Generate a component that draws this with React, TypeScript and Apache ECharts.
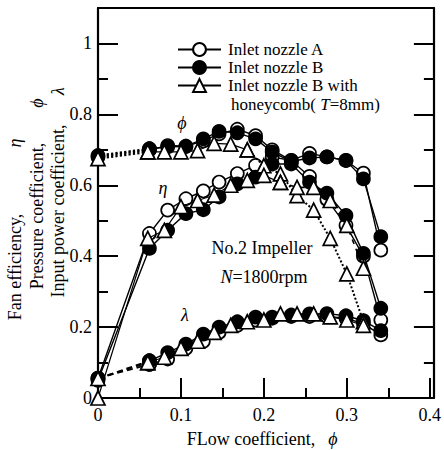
import React, { useEffect, useRef } from 'react';
import * as echarts from 'echarts';

// Flow coefficient values (x)
const flowAB = [0, 0.062, 0.084, 0.106, 0.127, 0.146, 0.168, 0.19, 0.21, 0.233, 0.255, 0.276, 0.299, 0.32, 0.341];
const flowHC = [0, 0.06, 0.08, 0.1, 0.12, 0.14, 0.16, 0.18, 0.2, 0.22, 0.24, 0.26, 0.28, 0.3, 0.32];

// Pressure coefficient ϕ
const psiA = [0.68, 0.7, 0.712, 0.71, 0.725, 0.745, 0.758, 0.74, 0.7, 0.67, 0.69, 0.68, 0.67, 0.634, 0.417];
const psiB = [0.684, 0.703, 0.708, 0.71, 0.731, 0.752, 0.748, 0.731, 0.694, 0.667, 0.677, 0.68, 0.67, 0.618, 0.455];
const psiHC = [0.675, 0.694, 0.694, 0.694, 0.698, 0.718, 0.716, 0.7, 0.655, 0.632, 0.571, 0.53, 0.45, 0.35, 0.215];

// Fan efficiency η
const etaA = [0.056, 0.464, 0.53, 0.562, 0.584, 0.609, 0.633, 0.656, 0.68, 0.67, 0.625, 0.56, 0.487, 0.4, 0.22];
const etaB = [0.05, 0.422, 0.473, 0.52, 0.531, 0.567, 0.604, 0.623, 0.66, 0.66, 0.609, 0.578, 0.515, 0.408, 0.253];
const etaHC = [0.0, 0.45, 0.473, 0.54, 0.557, 0.572, 0.6, 0.614, 0.628, 0.608, 0.594, 0.594, 0.557, 0.487, 0.366];

// Input power coefficient λ
const lamA = [0.056, 0.095, 0.11, 0.14, 0.16, 0.185, 0.205, 0.22, 0.225, 0.23, 0.23, 0.23, 0.225, 0.21, 0.178];
const lamB = [0.055, 0.105, 0.128, 0.152, 0.18, 0.2, 0.215, 0.228, 0.228, 0.234, 0.237, 0.238, 0.232, 0.218, 0.19];
const lamHC = [0.055, 0.1, 0.115, 0.14, 0.16, 0.185, 0.205, 0.215, 0.22, 0.237, 0.237, 0.237, 0.229, 0.22, 0.205];

const legendNames = ['Inlet nozzle A', 'Inlet nozzle B', 'Inlet nozzle B with'];
const yTicks = [0, 0.2, 0.4, 0.6, 0.8, 1];
const xTicks = [0, 0.1, 0.2, 0.3, 0.4];

const FONT = 'Liberation Serif, Times New Roman, serif';
const FS = 18;
const LFS = 17;

type Kind = 'open' | 'filled' | 'tri';

const seg = (xs: number[], ys: number[], from: number, to: number) =>
  xs.slice(from, to + 1).map((x, i) => [x, ys[from + i]]);

const mkSeries = (name: string, data: number[][], kind: Kind, lineType: any, lw = 1.4) => ({
  name,
  type: 'line',
  data,
  symbol: kind === 'tri' ? 'triangle' : 'circle',
  symbolSize: kind === 'tri' ? 14 : 13,
  showSymbol: true,
  itemStyle: {
    color: kind === 'filled' ? '#000' : '#fff',
    borderColor: '#000',
    borderWidth: 1.7,
  },
  lineStyle: { color: '#000', width: lw, type: lineType },
  emphasis: { disabled: true },
  z: kind === 'open' ? 2 : kind === 'filled' ? 3 : 4,
});

const buildSeries = () => {
  const s: any[] = [];
  // Nozzle A
  s.push(mkSeries(legendNames[0], seg(flowAB, psiA, 1, 14), 'open', 'solid'));
  s.push(mkSeries('A psi start', seg(flowAB, psiA, 0, 1), 'open', 'dotted', 2.2));
  s.push(mkSeries('A eta', seg(flowAB, etaA, 0, 14), 'open', 'solid'));
  s.push(mkSeries('A lam start', seg(flowAB, lamA, 0, 1), 'open', [6, 4], 1.8));
  s.push(mkSeries('A lam', seg(flowAB, lamA, 1, 14), 'open', 'solid'));
  // Nozzle B
  s.push(mkSeries(legendNames[1], seg(flowAB, psiB, 1, 14), 'filled', 'solid'));
  s.push(mkSeries('B psi start', seg(flowAB, psiB, 0, 1), 'filled', 'dotted', 2.2));
  s.push(mkSeries('B eta', seg(flowAB, etaB, 0, 14), 'filled', 'solid'));
  s.push(mkSeries('B lam start', seg(flowAB, lamB, 0, 1), 'filled', [6, 4], 1.8));
  s.push(mkSeries('B lam', seg(flowAB, lamB, 1, 14), 'filled', 'solid'));
  // Nozzle B with honeycomb
  s.push(mkSeries(legendNames[2], seg(flowHC, psiHC, 1, 7), 'tri', 'solid', 1.2));
  s.push(mkSeries('HC psi start', seg(flowHC, psiHC, 0, 1), 'tri', 'dotted', 2.2));
  s.push(mkSeries('HC psi tail', seg(flowHC, psiHC, 7, 14), 'tri', 'dotted', 2));
  s.push(mkSeries('HC eta', seg(flowHC, etaHC, 0, 9), 'tri', 'solid', 1.2));
  s.push(mkSeries('HC eta tail', seg(flowHC, etaHC, 9, 14), 'tri', [5, 5], 1.6));
  s.push(mkSeries('HC lam start', seg(flowHC, lamHC, 0, 1), 'tri', [6, 4], 1.8));
  s.push(mkSeries('HC lam', seg(flowHC, lamHC, 1, 14), 'tri', 'solid', 1.2));
  return s;
};

const axisTextStyle = { color: '#000', fontFamily: FONT, fontSize: FS };
const X_MAX = 0.405;
const Y_MAX = 1.1;

const baseAxisX = (extra: any) => ({
  type: 'value',
  min: 0,
  max: X_MAX,
  splitLine: { show: false },
  axisLine: { show: false, onZero: false },
  axisLabel: { show: false },
  ...extra,
});
const baseAxisY = (extra: any) => ({
  type: 'value',
  min: 0,
  max: Y_MAX,
  splitLine: { show: false },
  axisLine: { show: false, onZero: false },
  axisLabel: { show: false },
  ...extra,
});

const tickMajor = { show: true, inside: true, length: 20, lineStyle: { color: '#000', width: 2 } };
const tickMinor = { show: true, inside: true, length: 10, lineStyle: { color: '#000', width: 2 } };
const frameLine = { show: true, onZero: false, lineStyle: { color: '#000', width: 2.2 } };

const txt = (text: string, x: number, y: number, italic = false) => ({
  type: 'text',
  x,
  y,
  style: {
    text,
    fontFamily: FONT,
    fontSize: FS,
    fontStyle: italic ? 'italic' : 'normal',
    fill: '#000',
    textAlign: 'center',
    textVerticalAlign: 'middle',
    align: 'center',
    verticalAlign: 'middle',
  },
});

const rtxt = (text: string, x: number, y: number, italic = false) => ({
  ...txt(text, x, y, italic),
  rotation: Math.PI / 2,
});

const richStyle = {
  a: { fontFamily: FONT, fontSize: FS, color: '#000' },
  i: { fontFamily: FONT, fontSize: FS, fontStyle: 'italic', color: '#000' },
};

export default function App() {
  const ref = useRef<HTMLDivElement>(null);
  useEffect(() => {
    document.body.style.margin = '0';
    if (!ref.current) return;
    const chart = echarts.init(ref.current, undefined, { renderer: 'svg' });
    const option: any = {
      animation: false,
      backgroundColor: '#fff',
      textStyle: { fontFamily: FONT },
      grid: { left: 98, top: 8, right: 7, bottom: 52, containLabel: false },
      xAxis: [
        baseAxisX({
          position: 'bottom',
          interval: 0.1,
          axisLine: frameLine,
          axisTick: tickMajor,
          axisLabel: {
            show: true,
            margin: 8,
            ...axisTextStyle,
            formatter: (v: number) => {
              const t = xTicks.find((k) => Math.abs(k - v) < 1e-6);
              return t === undefined ? '' : String(t);
            },
          },
        }),
        baseAxisX({ position: 'bottom', interval: 0.05, axisTick: tickMinor }),
        baseAxisX({ position: 'top', interval: 0.1, axisLine: frameLine, axisTick: { show: false } }),
      ],
      yAxis: [
        baseAxisY({
          position: 'left',
          interval: 0.2,
          axisLine: frameLine,
          axisTick: tickMajor,
          axisLabel: {
            show: true,
            margin: 6,
            ...axisTextStyle,
            formatter: (v: number) => {
              const t = yTicks.find((k) => Math.abs(k - v) < 1e-6);
              return t === undefined ? '' : String(t);
            },
          },
        }),
        baseAxisY({ position: 'left', interval: 0.1, axisTick: tickMinor }),
        baseAxisY({ position: 'right', interval: 0.2, axisLine: frameLine, axisTick: tickMajor }),
        baseAxisY({ position: 'right', interval: 0.1, axisTick: tickMinor }),
      ],
      legend: {
        data: legendNames,
        orient: 'vertical',
        left: 172,
        top: 36,
        padding: 5,
        itemWidth: 43,
        itemHeight: 16,
        itemGap: 1,
        selectedMode: false,
        textStyle: { color: '#000', fontFamily: FONT, fontSize: LFS, lineHeight: 17, padding: [0, 0, 0, 2] },
      },
      graphic: [
        // y-axis titles
        rtxt('Fan efficiency,', 15, 267),
        rtxt('η', 15, 143, true),
        rtxt('Pressure coefficient,', 37, 216),
        rtxt('ϕ', 37, 103, true),
        rtxt('Input power coefficient,', 58, 211),
        rtxt('λ', 58, 91, true),
        // x-axis title
        txt('FLow coefficient,', 251, 439),
        txt('ϕ', 333, 439, true),
        // legend continuation
        {
          type: 'text',
          x: 231,
          y: 104,
          style: {
            text: '{a|honeycomb( }{i|T}{a|=8mm)}',
            fontFamily: FONT,
            fontSize: LFS,
            textVerticalAlign: 'middle',
            verticalAlign: 'middle',
            rich: {
              a: { fontFamily: FONT, fontSize: LFS, color: '#000' },
              i: { fontFamily: FONT, fontSize: LFS, fontStyle: 'italic', color: '#000' },
            },
          },
        },
        // curve labels
        txt('ϕ', 182, 123, true),
        txt('η', 163, 188, true),
        txt('λ', 185, 315, true),
        txt('No.2 Impeller', 262, 248),
        {
          type: 'text',
          x: 264,
          y: 277,
          style: {
            text: '{i|N}{a|=1800rpm}',
            fontFamily: FONT,
            fontSize: FS,
            textAlign: 'center',
            align: 'center',
            textVerticalAlign: 'middle',
            verticalAlign: 'middle',
            rich: richStyle,
          },
        },
      ],
      series: buildSeries(),
    };
    chart.setOption(option);
    return () => chart.dispose();
  }, []);
  return <div ref={ref} style={{ width: 444, height: 450 }} />;
}
